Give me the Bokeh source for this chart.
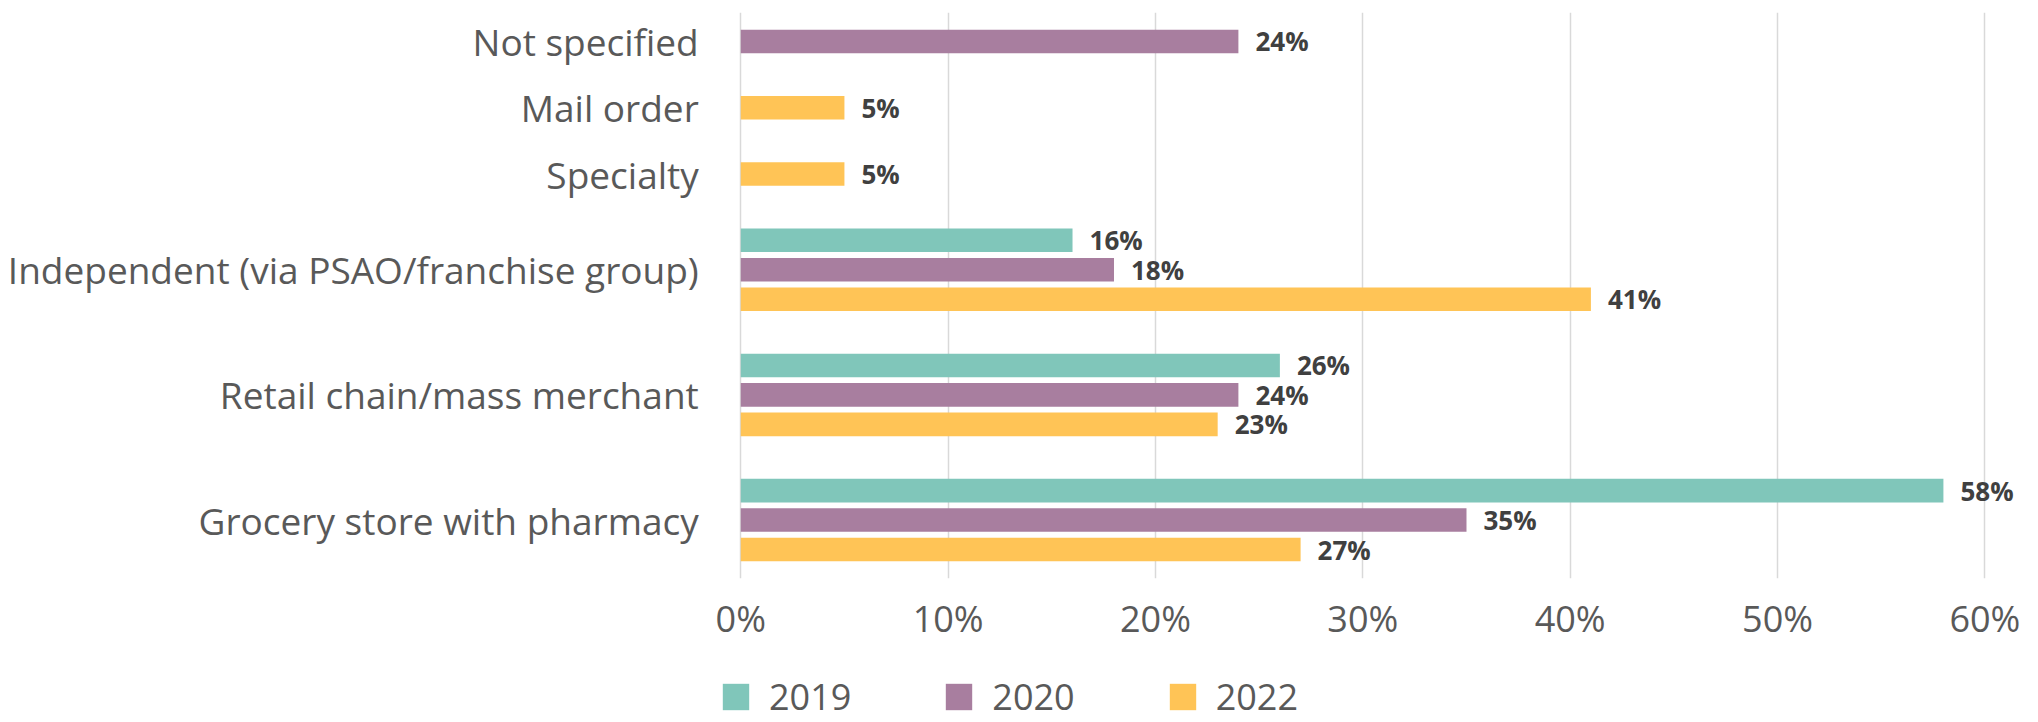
from bokeh.plotting import figure
from bokeh.layouts import column
from bokeh.models import FactorRange, Range1d, ColumnDataSource, FixedTicker, PrintfTickFormatter
from bokeh.core.properties import value
from bokeh.embed import file_html
from bokeh.resources import INLINE

# ---- data (bottom to top) ----
categories = [
    "Grocery store with pharmacy",
    "Retail chain/mass merchant",
    "Independent (via PSAO/franchise group)",
    "Specialty",
    "Mail order",
    "Not specified",
]
years = ["2019", "2020", "2022"]
v2019 = [58, 26, 16, None, None, None]
v2020 = [35, 24, 18, None, None, 24]
v2022 = [27, 23, 41, 5, 5, None]
colors = ["#80C6BA", "#A87E9F", "#FFC456"]
x_ticks = [0, 10, 20, 30, 40, 50, 60]

series = {"2019": v2019, "2020": v2020, "2022": v2022}

factors = []
for ci, cat in enumerate(categories):
    for yr in reversed(years):
        if series[yr][ci] is not None:
            factors.append((cat, yr))

FONT = "Open Sans"
GRAY = "#595959"

p = figure(
    frame_width=2030, frame_height=566,
    y_range=FactorRange(*factors, group_padding=1.25, range_padding=0.053),
    x_range=Range1d(-35.7, 62.2),
    output_backend="svg", toolbar_location=None,
    min_border_left=0, min_border_right=8, min_border_top=12, min_border_bottom=80,
)
p.outline_line_color = None
p.background_fill_color = "white"
p.yaxis.visible = False

for yr, col in zip(years, colors):
    vals = series[yr]
    ys, xs, labels = [], [], []
    for ci, cat in enumerate(categories):
        v = vals[ci]
        if v is not None:
            ys.append((cat, yr))
            xs.append(v)
            labels.append(f"{v}%")
    src = ColumnDataSource(dict(y=ys, x=xs, label=labels))
    p.hbar(y="y", left=0, right="x", height=0.8, fill_color=col, line_color=None, source=src)
    p.text(x="x", y="y", text="label", x_offset=17, text_align="left", text_baseline="middle",
           text_font=value(FONT), text_font_style="bold", text_font_size="26px",
           text_color="#404040", source=src)

# category labels (at group centres of the nested factor range)
cat_src = ColumnDataSource(dict(y=categories, x=[0] * len(categories), label=categories))
p.text(x="x", y="y", text="label", x_offset=-42, text_align="right", text_baseline="middle",
       text_font=value(FONT), text_font_size="37px", text_color=GRAY, source=cat_src)

# x axis
p.xaxis.ticker = FixedTicker(ticks=x_ticks)
p.xaxis.formatter = PrintfTickFormatter(format="%d%%")
p.xaxis.axis_line_color = None
p.xaxis.major_tick_line_color = None
p.xaxis.minor_tick_line_color = None
p.xaxis.major_label_text_font = FONT
p.xaxis.major_label_text_font_size = "36px"
p.xaxis.major_label_text_color = GRAY
p.xaxis.major_label_standoff = 9

p.xgrid.grid_line_color = "#D9D9D9"
p.xgrid.grid_line_width = 1.5
p.xgrid.ticker = FixedTicker(ticks=x_ticks)
p.ygrid.grid_line_color = None

# ---- legend strip below the chart ----
leg = figure(
    frame_width=2038, frame_height=64,
    x_range=Range1d(0, 1), y_range=Range1d(0, 1),
    output_backend="svg", toolbar_location=None,
    min_border_left=0, min_border_right=0, min_border_top=0, min_border_bottom=0,
)
leg.axis.visible = False
leg.grid.visible = False
leg.outline_line_color = None
for yr, col in zip(years, colors):
    vals = [v for v in series[yr] if v is not None]
    r = leg.hbar(y=[0.5] * len(vals), left=0, right=vals, height=0.8, fill_color=col,
                 line_color=None, legend_label=yr)
    r.visible = False  # only its legend entry is shown

lg = leg.legend[0]
lg.orientation = "horizontal"
lg.location = (719, 1)
lg.glyph_width = 33
lg.glyph_height = 33
lg.label_standoff = 17
lg.spacing = 91
lg.padding = 0
lg.margin = 0
lg.border_line_color = None
lg.background_fill_alpha = 0
lg.inactive_fill_alpha = 0
lg.label_text_font = FONT
lg.label_text_font_size = "36px"
lg.label_text_color = GRAY

layout = column(p, leg, spacing=0)
open("out.html", "w").write(file_html(layout, INLINE))
